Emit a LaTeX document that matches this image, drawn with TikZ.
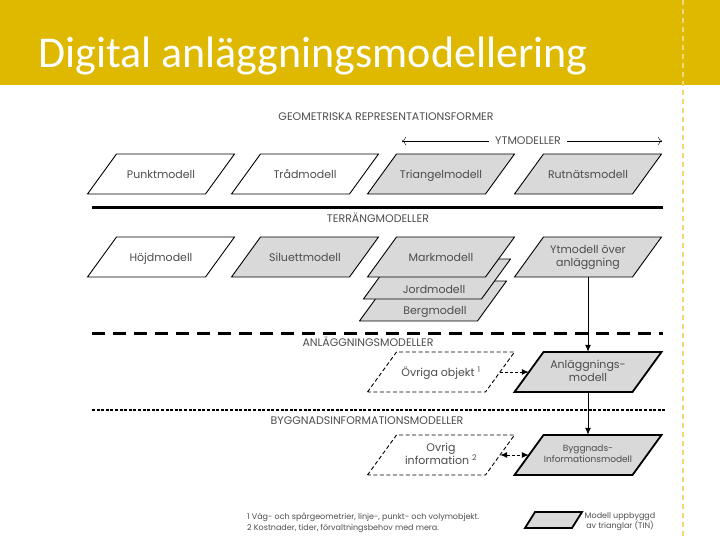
\documentclass[tikz,border=0pt]{standalone}
\usepackage{fontspec}
\setmainfont{Carlito}
\newfontfamily\diafont{Poppins}
\usepackage{tikz}
\usetikzlibrary{arrows.meta}
\definecolor{baryellow}{HTML}{DFB800}
\definecolor{dashyellow}{HTML}{F0D77A}
\definecolor{boxgray}{HTML}{D9D9D9}
\definecolor{textgray}{HTML}{4D4D4D}

% parallelogram outline, body 118 wide, 40 high, slant 29
\newcommand{\paraoutline}[2]{%
  \filldraw[#1, shift={(#2)}] (-73.5,20) -- (-44.5,-20) -- (73.5,-20) -- (44.5,20) -- cycle;}
% outline plus named text node on top
\newcommand{\paranode}[4]{%
  \paraoutline{#1}{#3}
  \node[boxtext] (#2) at (#3) {#4};}

\tikzset{
  openbox/.style={draw=black, fill=white, line width=0.9pt},
  greybox/.style={draw=black, fill=boxgray, line width=0.9pt},
  ghostbox/.style={draw=black, fill=white, line width=0.9pt, dash pattern=on 4pt off 2.5pt},
  heavybox/.style={draw=black, fill=boxgray, line width=1.8pt},
  boxtext/.style={rectangle, minimum width=118pt, minimum height=40pt, inner sep=0pt,
    align=center, font=\diafont\fontsize{11}{13}\selectfont, text=textgray,
    execute at begin node={\rule[-2.6pt]{0pt}{13.6pt}},
    execute at end node={\rule[-2.6pt]{0pt}{0pt}}},
  caption/.style={font=\diafont\fontsize{11}{13}\selectfont, text=textgray, inner sep=0pt},
  notetext/.style={font=\diafont\fontsize{8}{10.5}\selectfont, text=textgray, inner sep=0pt},
  flow/.style={-{Latex[length=7pt,width=6pt]}, line width=1pt},
}

\begin{document}
\begin{tikzpicture}[x=1pt, y=-1pt]
  \useasboundingbox (0,0) rectangle (720,540);
  % header bar
  \fill[baryellow] (0,0) rectangle (720,85);
  \draw[dashyellow, line width=1.2pt, dash pattern=on 5pt off 4pt] (683,0) -- (683,540);
  \node[anchor=base west, inner sep=0pt, text=white, font=\fontsize{44}{50}\selectfont]
    (title) at (38,68) {Digital anläggningsmodellering};

  % geometric forms
  \node[caption] (geomlabel) at (386,117) {GEOMETRISKA REPRESENTATIONSFORMER};
  \node[caption, inner xsep=6pt] (ytlabel) at (528,141) {YTMODELLER};
  \coordinate (ytleft) at (402,141);
  \coordinate (ytright) at (662,141);
  \draw[-{To[length=4pt]}, thin] (ytlabel) -- (ytleft);
  \draw[-{To[length=4pt]}, thin] (ytlabel) -- (ytright);

  \paranode{openbox}{punkt}{161,174}{Punktmodell}
  \paranode{openbox}{trad}{305,174}{Trådmodell}
  \paranode{greybox}{triangel}{441,174}{Triangelmodell}
  \paranode{greybox}{rutnat}{588,174}{Rutnätsmodell}

  \draw[line width=3pt] (92,208) -- (663,208);

  % terrain models
  \node[caption] (terrlabel) at (378,218) {TERRÄNGMODELLER};
  \paranode{openbox}{hojd}{161,257}{Höjdmodell}
  \paranode{greybox}{siluett}{305,257}{Siluettmodell}
  \paraoutline{greybox}{433,301}
  \node[caption] (berg) at (435,312) {Bergmodell};
  \paraoutline{greybox}{437,279}
  \node[caption] (jord) at (434,289) {Jordmodell};
  \paranode{greybox}{mark}{441,257}{Markmodell}
  \paranode{greybox}{ytanl}{588,257}{Ytmodell över\\anläggning}

  \draw[line width=3pt, dash pattern=on 13pt off 8pt] (92,333) -- (663,333);

  % facility models
  \node[caption] (anllabel) at (368,342) {ANLÄGGNINGSMODELLER};
  \paranode{ghostbox}{ovriga}{441,372}{Övriga objekt \textsuperscript{1}}
  \paranode{heavybox}{anl}{588,372}{Anläggnings-\\modell}

  \draw[line width=2pt, dash pattern=on 3pt off 1.6pt] (92,410) -- (666,410);

  % building information models
  \node[caption] (bimlabel) at (367,421) {BYGGNADSINFORMATIONSMODELLER};
  \paranode{ghostbox}{ovrig}{441,455}{Ovrig\\information \textsuperscript{2}}
  \paraoutline{heavybox}{588,455}
  \node[boxtext, font=\diafont\fontsize{9}{11}\selectfont] (bim) at (588,455) {Byggnads-\\Informationsmodell};

  \draw[flow] (ytanl.south) -- (anl.north);
  \draw[flow] (anl.south) -- (bim.north);
  \draw[flow, dash pattern=on 3pt off 2pt] (ovriga.east) -- (anl.west);
  \draw[flow, {Latex[length=7pt,width=6pt]}-{Latex[length=7pt,width=6pt]}, dash pattern=on 3pt off 2pt] (ovrig.east) -- (bim.west);

  % notes and key
  \node[notetext, anchor=west, align=left] (notes) at (247,523)
    {1 Väg- och spårgeometrier, linje-, punkt- och volymobjekt.\\
     2 Kostnader, tider, förvaltningsbehov med mera.};
  \filldraw[heavybox] (525,528) -- (535,512) -- (582,512) -- (572,528) -- cycle;
  \node[notetext, align=center] (tinnote) at (620,521.5) {Modell uppbyggd\\av trianglar (TIN)};
\end{tikzpicture}
\end{document}
